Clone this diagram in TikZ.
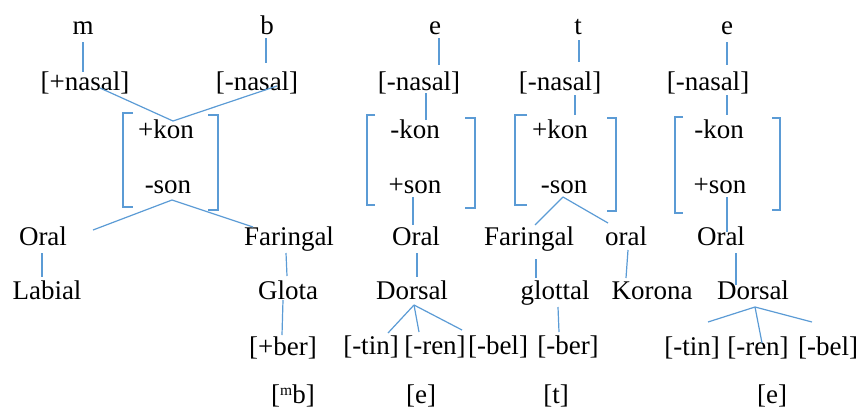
\documentclass[tikz,border=0pt]{standalone}
\usepackage{fontspec}
\setmainfont{Liberation Serif}
\usetikzlibrary{calc}
\definecolor{linkblue}{RGB}{91,155,213}
\begin{document}
\begin{tikzpicture}[x=1pt,y=-1pt,
  lbl/.style={anchor=base,inner sep=0pt,font=\fontsize{27}{32}\selectfont},
  conn/.style={draw=linkblue,line width=1.2pt},
  brk/.style={draw=linkblue,line width=1.2pt}]
\useasboundingbox (0,0) rectangle (861,410);
% column 1
\node[lbl] (m) at (83,34) {m};
\node[lbl] (b) at (267,34) {b};
\node[lbl] (pn) at (85,90) {[+nasal]};
\node[lbl] (mn1) at (257,90) {[-nasal]};
\node[lbl] (kon1) at (166,138) {+kon};
\node[lbl] (son1) at (168,193) {-son};
\node[lbl] (oral1) at (43,245) {Oral};
\node[lbl] (lab) at (47,299) {Labial};
\node[lbl] (far1) at (289,245) {Faringal};
\node[lbl] (glota) at (288,299) {Glota};
\node[lbl] (pber) at (283,355) {[+ber]};
\node[lbl] (mb) at (293,403) {[\raisebox{8pt}{\fontsize{15.5}{16}\selectfont m}b]};
% column 2
\node[lbl] (e1) at (435,34) {e};
\node[lbl] (n2) at (419,90) {[-nasal]};
\node[lbl] (kon2) at (415,138) {-kon};
\node[lbl] (son2) at (415,193) {+son};
\node[lbl] (oral2) at (416,245) {Oral};
\node[lbl] (dor2) at (412,299) {Dorsal};
\node[lbl] (tin2) at (371,354) {[-tin]};
\node[lbl] (ren2) at (435,354) {[-ren]};
\node[lbl] (bel2) at (498,354) {[-bel]};
\node[lbl] (eo1) at (421,403) {[e]};
% column 3
\node[lbl] (t) at (578,34) {t};
\node[lbl] (n3) at (560,90) {[-nasal]};
\node[lbl] (kon3) at (560,138) {+kon};
\node[lbl] (son3) at (564,193) {-son};
\node[lbl] (far3) at (529,245) {Faringal};
\node[lbl] (oral3) at (626,245) {oral};
\node[lbl] (glot) at (555,299) {glottal};
\node[lbl] (kor) at (652,299) {Korona};
\node[lbl] (mber) at (568,354) {[-ber]};
\node[lbl] (to) at (556,403) {[t]};
% column 4
\node[lbl] (e2) at (727,34) {e};
\node[lbl] (n4) at (708,90) {[-nasal]};
\node[lbl] (kon4) at (719,138) {-kon};
\node[lbl] (son4) at (720,193) {+son};
\node[lbl] (oral4) at (721,245) {Oral};
\node[lbl] (dor4) at (753,299) {Dorsal};
\node[lbl] (tin4) at (692,355) {[-tin]};
\node[lbl] (ren4) at (758,355) {[-ren]};
\node[lbl] (bel4) at (828,355) {[-bel]};
\node[lbl] (eo2) at (772,403) {[e]};
% brackets
\draw[brk] (133,113) -- (123,113) -- (123,207) -- (133,207);
\draw[brk] (208,115) -- (218,115) -- (218,210) -- (208,210);
\draw[brk] (375,115) -- (367,115) -- (367,205) -- (375,205);
\draw[brk] (465,118) -- (475,118) -- (475,208) -- (465,208);
\draw[brk] (527,115) -- (515,115) -- (515,205) -- (527,205);
\draw[brk] (607,118) -- (616,118) -- (616,211) -- (607,211);
\draw[brk] (683,117) -- (675,117) -- (675,213) -- (683,213);
\draw[brk] (772,118) -- (780,118) -- (780,210) -- (772,210);
% connectors column 1
\draw[conn] ($(m.base)+(0,8)$) -- ($(pn.base)+(-2,-18)$);
\draw[conn] ($(b.base)+(-1,4)$) -- ($(mn1.base)+(9,-27)$);
\draw[conn] ($(pn.base)+(15,-2)$) -- ($(kon1.base)+(7,-17)$);
\draw[conn] ($(mn1.base)+(20,-4)$) -- ($(kon1.base)+(7,-17)$);
\draw[conn] ($(son1.base)+(4,7)$) -- ($(oral1.base)+(50,-15)$);
\draw[conn] ($(son1.base)+(4,7)$) -- ($(far1.base)+(-36,-18)$);
\draw[conn] ($(oral1.base)+(-1,8)$) -- ($(lab.base)+(-5,-22)$);
\draw[conn] ($(far1.base)+(-3,8)$) -- ($(glota.base)+(-1,-23)$);
\draw[conn] ($(glota.base)+(-5,1)$) -- ($(pber.base)+(-1,-20)$);
% column 2
\draw[conn] ($(e1.base)+(4,4)$) -- ($(n2.base)+(20,-25)$);
\draw[conn] ($(n2.base)+(7,3)$) -- ($(kon2.base)+(11,-18)$);
\draw[conn] ($(son2.base)+(-2,4)$) -- ($(oral2.base)+(-3,-20)$);
\draw[conn] ($(oral2.base)+(1,8)$) -- ($(dor2.base)+(5,-22)$);
\draw[conn] ($(dor2.base)+(2,6)$) -- ($(tin2.base)+(17,-21)$);
\draw[conn] ($(dor2.base)+(2,6)$) -- ($(ren2.base)+(-16,-22)$);
\draw[conn] ($(dor2.base)+(2,6)$) -- ($(bel2.base)+(-36,-24)$);
% column 3
\draw[conn] ($(t.base)+(1,6)$) -- ($(n3.base)+(19,-28)$);
\draw[conn] ($(n3.base)+(15,5)$) -- ($(kon3.base)+(15,-23)$);
\draw[conn] ($(son3.base)+(-1,4)$) -- ($(far3.base)+(6,-20)$);
\draw[conn] ($(son3.base)+(-1,4)$) -- ($(oral3.base)+(-18,-22)$);
\draw[conn] ($(far3.base)+(7,14)$) -- ($(glot.base)+(-19,-21)$);
\draw[conn] ($(oral3.base)+(2,5)$) -- ($(kor.base)+(-26,-21)$);
\draw[conn] ($(glot.base)+(3,8)$) -- ($(mber.base)+(-9,-22)$);
% column 4
\draw[conn] ($(e2.base)+(0,8)$) -- ($(n4.base)+(19,-25)$);
\draw[conn] ($(n4.base)+(19,5)$) -- ($(kon4.base)+(8,-23)$);
\draw[conn] ($(son4.base)+(7,4)$) -- ($(oral4.base)+(6,-13)$);
\draw[conn] ($(oral4.base)+(15,8)$) -- ($(dor4.base)+(-17,-14)$);
\draw[conn] ($(dor4.base)+(2,8)$) -- ($(tin4.base)+(16,-33)$);
\draw[conn] ($(dor4.base)+(2,8)$) -- ($(ren4.base)+(4,-12)$);
\draw[conn] ($(dor4.base)+(2,8)$) -- ($(bel4.base)+(-16,-33)$);
\end{tikzpicture}
\end{document}
